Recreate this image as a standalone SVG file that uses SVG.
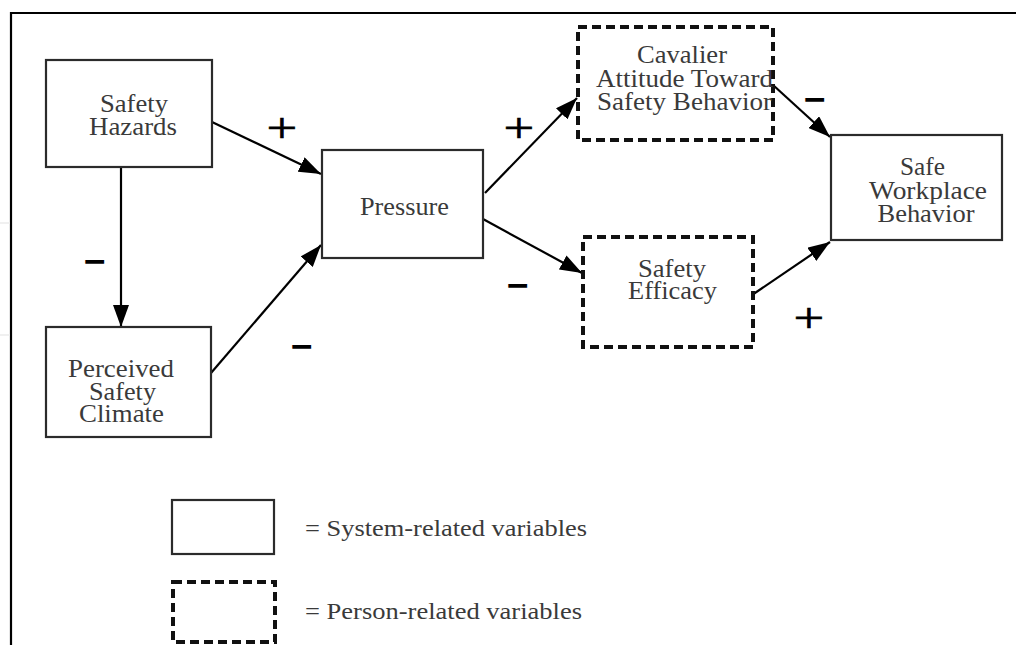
<svg xmlns="http://www.w3.org/2000/svg" width="1016" height="645" viewBox="0 0 1016 645">
<defs>
<style>
.frame{stroke:#000;stroke-width:2.2;fill:none}
.sys{fill:#fff;stroke:#2b2b2b;stroke-width:2.2}
.per{fill:#fff;stroke:#111;stroke-width:4;stroke-dasharray:9 5}
.lbl{font-family:"Liberation Serif","Times New Roman",serif;font-size:26px;fill:#3a3a3a;text-anchor:middle}
.leg{font-family:"Liberation Serif","Times New Roman",serif;font-size:23px;fill:#3a3a3a}
.edge{stroke:#000;stroke-width:2.2;fill:none;marker-end:url(#ah)}
.plus{font-family:"Liberation Serif","Times New Roman",serif;font-size:42px;fill:#000;stroke:#000;stroke-width:0.6;text-anchor:middle}
.minus{font-family:"Liberation Sans",Arial,sans-serif;font-size:34px;font-weight:bold;fill:#000;text-anchor:middle}
</style>
<marker id="ah" markerUnits="userSpaceOnUse" markerWidth="24" markerHeight="16" refX="22" refY="8" orient="auto">
<path d="M0,0 L22,8 L0,16 z" fill="#000"/>
</marker>
</defs>
<rect width="1016" height="645" fill="#fff"/>
<g id="frame">
<path class="frame" d="M11,645 L11,13 L1016,13"/>
<path d="M0,223 L10,223 M0,335 L10,335" stroke="#ececec" stroke-width="1.5" fill="none"/>
</g>
<g id="connectors">
<line class="edge" x1="212" y1="122" x2="321" y2="174"/>
<line class="edge" x1="121" y1="167" x2="121" y2="327"/>
<line class="edge" x1="211" y1="373" x2="321" y2="245"/>
<line class="edge" x1="485" y1="193" x2="577" y2="98"/>
<line class="edge" x1="483" y1="219" x2="582" y2="273"/>
<line class="edge" x1="773" y1="85" x2="830" y2="137"/>
<line class="edge" x1="752" y1="295" x2="830" y2="242"/>
</g>
<g id="signs">
<text class="plus" x="282" y="142" transform="translate(282,0) scale(1.3,1) translate(-282,0)">+</text>
<text class="minus" x="95" y="273" transform="translate(95,0) scale(1.1,1) translate(-95,0)">−</text>
<text class="minus" x="302" y="358" transform="translate(302,0) scale(1.1,1) translate(-302,0)">−</text>
<text class="plus" x="519" y="142" transform="translate(519,0) scale(1.3,1) translate(-519,0)">+</text>
<text class="minus" x="518" y="297" transform="translate(518,0) scale(1.1,1) translate(-518,0)">−</text>
<text class="minus" x="815" y="111" transform="translate(815,0) scale(1.1,1) translate(-815,0)">−</text>
<text class="plus" x="809" y="332" transform="translate(809,0) scale(1.3,1) translate(-809,0)">+</text>
</g>
<g id="safety-hazards">
<rect class="sys" x="46" y="60" width="166" height="107"/>
<text class="lbl" x="134" y="112" textLength="68" lengthAdjust="spacingAndGlyphs">Safety</text>
<text class="lbl" x="133" y="135" textLength="88" lengthAdjust="spacingAndGlyphs">Hazards</text>
</g>
<g id="perceived-safety-climate">
<rect class="sys" x="46" y="327" width="165" height="110"/>
<text class="lbl" x="121" y="377" textLength="106" lengthAdjust="spacingAndGlyphs">Perceived</text>
<text class="lbl" x="122.5" y="400" textLength="67" lengthAdjust="spacingAndGlyphs">Safety</text>
<text class="lbl" x="121.5" y="422" textLength="85" lengthAdjust="spacingAndGlyphs">Climate</text>
</g>
<g id="pressure">
<rect class="sys" x="322" y="150" width="161" height="108"/>
<text class="lbl" x="404.5" y="215" textLength="89" lengthAdjust="spacingAndGlyphs">Pressure</text>
</g>
<g id="cavalier-attitude">
<rect class="per" x="578" y="27" width="195" height="113"/>
<text class="lbl" x="682" y="63" textLength="90" lengthAdjust="spacingAndGlyphs">Cavalier</text>
<text class="lbl" x="684.5" y="87" textLength="177" lengthAdjust="spacingAndGlyphs">Attitude Toward</text>
<text class="lbl" x="684.5" y="110" textLength="175" lengthAdjust="spacingAndGlyphs">Safety Behavior</text>
</g>
<g id="safety-efficacy">
<rect class="per" x="583" y="237" width="170" height="110"/>
<text class="lbl" x="672" y="277" textLength="68" lengthAdjust="spacingAndGlyphs">Safety</text>
<text class="lbl" x="672.5" y="299" textLength="89" lengthAdjust="spacingAndGlyphs">Efficacy</text>
</g>
<g id="safe-workplace-behavior">
<rect class="sys" x="831" y="135" width="171" height="105"/>
<text class="lbl" x="922.5" y="175" textLength="45" lengthAdjust="spacingAndGlyphs">Safe</text>
<text class="lbl" x="928" y="199" textLength="118" lengthAdjust="spacingAndGlyphs">Workplace</text>
<text class="lbl" x="926" y="222" textLength="97" lengthAdjust="spacingAndGlyphs">Behavior</text>
</g>
<g id="legend-system">
<rect class="sys" x="172" y="500" width="102" height="54"/>
<text class="leg" x="305" y="536" textLength="282" lengthAdjust="spacingAndGlyphs">= System-related variables</text>
</g>
<g id="legend-person">
<rect class="per" x="173" y="582" width="102" height="60"/>
<text class="leg" x="305" y="619" textLength="277" lengthAdjust="spacingAndGlyphs">= Person-related variables</text>
</g>
</svg>
